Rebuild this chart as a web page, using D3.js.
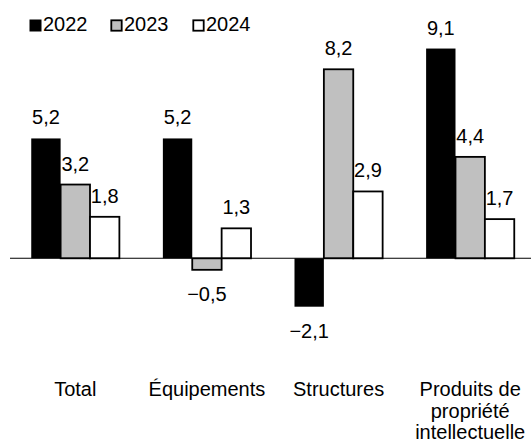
<!DOCTYPE html>
<html><head><meta charset="utf-8">
<script src="https://cdn.jsdelivr.net/npm/d3@7"></script>
<style>body{margin:0;background:#fff}svg{display:block}text{font-family:"Liberation Sans",Arial,sans-serif;fill:#000}</style>
</head><body><svg id="c" width="531" height="442"></svg>
<script>
const categories = [["Total"], ["Équipements"], ["Structures"], ["Produits de","propriété","intellectuelle"]];
const seriesNames = ["2022", "2023", "2024"];
const v2022 = [5.2, 5.2, -2.1, 9.1];
const v2023 = [3.2, -0.5, 8.2, 4.4];
const v2024 = [1.8, 1.3, 2.9, 1.7];
const seriesValues = [v2022, v2023, v2024];
const fills = ["#000000", "#c0c0c0", "#ffffff"];

const svg = d3.select("#c");
const catKeys = categories.map(c => c.join(" "));
const x0 = d3.scaleBand().domain(catKeys).range([9.5, 536]).paddingInner(0).paddingOuter(0);
const x1 = d3.scaleBand().domain(seriesNames).range([0, x0.bandwidth()]).paddingInner(0).paddingOuter(0.74);
const zeroY = 258.3, ppu = 23.05;
const y = d3.scaleLinear().domain([-3, 10]).range([zeroY + 3*ppu, zeroY - 10*ppu]);
const fmt = v => (v < 0 ? "\u2212" : "") + Math.abs(v).toFixed(1).replace(".", ",");

// bars
seriesNames.forEach((s, si) => {
  const g = svg.append("g");
  g.selectAll("rect").data(seriesValues[si]).join("rect")
    .attr("x", (d, i) => x0(catKeys[i]) + x1(s))
    .attr("width", x1.bandwidth())
    .attr("y", d => y(Math.max(0, d)))
    .attr("height", d => Math.abs(y(d) - y(0)))
    .attr("fill", fills[si])
    .attr("stroke", "#000").attr("stroke-width", si === 0 ? 0 : 1.8);
  g.selectAll("text").data(seriesValues[si]).join("text")
    .attr("x", (d, i) => x0(catKeys[i]) + x1(s) + x1.bandwidth()/2)
    .attr("y", d => d >= 0 ? y(d) - 14 : y(d) + 31)
    .attr("text-anchor", "middle").attr("font-size", 20)
    .text(d => fmt(d));
});

// zero axis line
svg.append("line").attr("x1", 10).attr("x2", 531).attr("y1", y(0)).attr("y2", y(0))
  .attr("stroke", "#000").attr("stroke-width", 1.1);

// category labels
categories.forEach((lines, i) => {
  const cx = x0(catKeys[i]) + x0.bandwidth()/2;
  const t = svg.append("text").attr("text-anchor", "middle").attr("font-size", 20)
    .attr("x", cx).attr("y", 396);
  lines.forEach((l, li) => t.append("tspan").attr("x", cx)
    .attr("dy", li === 0 ? 0 : 21.5).text(l));
});

// legend
const legX = [29.5, 110.5, 192.5];
seriesNames.forEach((s, si) => {
  svg.append("rect").attr("x", legX[si] + (si ? 0.8 : 0)).attr("y", 19.5 + (si ? 0.8 : 0))
    .attr("width", si ? 10.4 : 12).attr("height", si ? 10.4 : 12)
    .attr("fill", fills[si]).attr("stroke", si ? "#000" : "none").attr("stroke-width", 1.8);
  svg.append("text").attr("x", legX[si] + 13.5).attr("y", 31.3).attr("font-size", 20).text(s);
});
</script></body></html>
